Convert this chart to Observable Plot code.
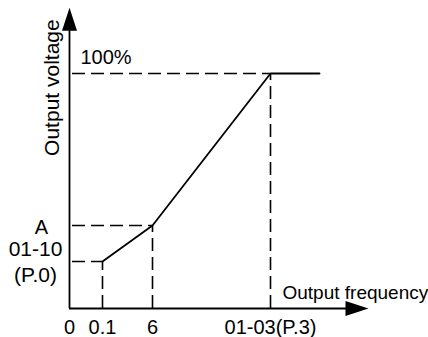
<!DOCTYPE html>
<html>
<head>
<meta charset="utf-8">
<script src="https://cdn.jsdelivr.net/npm/d3@7"></script>
<script src="https://cdn.jsdelivr.net/npm/@observablehq/plot@0.6"></script>
<style>
  html, body { margin: 0; padding: 0; background: #fff; }
  #chart svg { display: block; }
</style>
</head>
<body>
<div id="chart"></div>
<script>
// V/F curve (schematic): output frequency vs output voltage (%)
const curveFreq = [0.1, 6, 50, 70];
const curveVolt = [20, 35.3, 100, 100];

// frequency tick positions and labels
const freqTicks = [0, 0.1, 6, 50];
const freqTickLabels = ["0", "0.1", "6", "01-03(P.3)"];

// voltage labels
const voltGuideValues = [20, 35.3, 100];
const voltLabelA = "A";
const voltLabelMin = "01-10\n(P.0)";
const voltLabelMax = "100%";

// axis extents (arrow tips)
const freqAxisEnd = 90;
const voltAxisEnd = 128;
const xTitle = "Output frequency";
const yTitle = "Output voltage";
const yTitleAt = 94;

const curve = curveFreq.map((f, i) => ({f, v: curveVolt[i]}));
const guides = curve.slice(0, 3);

const font = "'Liberation Sans', Arial, sans-serif";
const dash = "13,6";

// elongated filled arrowhead, tip at origin pointing up
const arrowHead = {
  draw(ctx) {
    ctx.moveTo(0, 0);
    ctx.lineTo(7.5, 23);
    ctx.lineTo(-7.5, 23);
    ctx.closePath();
  }
};

const chart = Plot.plot({
  width: 428,
  height: 337,
  style: {fontFamily: font, fontSize: "20px", background: "#fff", color: "#000"},
  x: {type: "linear", domain: [0, 0.1, 6, 50, freqAxisEnd], range: [69, 102, 152, 270, 368], axis: null},
  y: {type: "linear", domain: [0, 100], range: [308, 73], axis: null},
  marks: [
    // dashed guides
    Plot.ruleY(guides, {y: "v", x1: 0, x2: "f", stroke: "#000", strokeWidth: 1.6, strokeDasharray: dash, strokeDashoffset: 16}),
    Plot.ruleX(guides, {x: "f", y1: 0, y2: "v", stroke: "#000", strokeWidth: 1.6, strokeDasharray: dash, strokeDashoffset: 0}),
    // axes
    Plot.ruleX([0], {y1: 0, y2: voltAxisEnd - 3, stroke: "#000", strokeWidth: 1.8}),
    Plot.ruleY([0], {x1: 0, x2: freqAxisEnd - 3, stroke: "#000", strokeWidth: 1.8}),
    Plot.dot([0], {x: 0, y: voltAxisEnd, symbol: arrowHead, fill: "#000", stroke: null, r: 5}),
    Plot.dot([0], {x: freqAxisEnd, y: 0, symbol: arrowHead, fill: "#000", stroke: null, r: 5, rotate: 90}),
    // curve
    Plot.line(curve, {x: "f", y: "v", stroke: "#000", strokeWidth: 1.8}),
    // tick labels on frequency axis
    Plot.text(freqTicks, {x: d => d, y: 0, text: (d, i) => freqTickLabels[i], textAnchor: "middle", lineAnchor: "bottom", dy: 25, fill: "#000", fontSize: 20}),
    // voltage labels
    Plot.text([voltGuideValues[1]], {x: 0, y: d => d, text: () => voltLabelA, textAnchor: "middle", lineAnchor: "bottom", dx: -28, dy: 8, fill: "#000", fontSize: 20}),
    Plot.text([voltGuideValues[0]], {x: 0, y: d => d, text: () => voltLabelMin, textAnchor: "middle", lineAnchor: "bottom", lineHeight: 1.2, dx: -34, dy: 20, fill: "#000", fontSize: 21}),
    Plot.text([voltGuideValues[2]], {x: 0, y: d => d, text: () => voltLabelMax, textAnchor: "start", lineAnchor: "bottom", dx: 11, dy: -10, fill: "#000", fontSize: 20}),
    // axis titles
    Plot.text([xTitle], {x: 50, y: 0, text: d => d, textAnchor: "start", lineAnchor: "bottom", dx: 12, dy: -10, fill: "#000", fontSize: 19}),
    Plot.text([yTitle], {x: 0, y: yTitleAt, text: d => d, textAnchor: "middle", lineAnchor: "bottom", rotate: -90, dx: -11, fill: "#000", fontSize: 21})
  ]
});

document.getElementById("chart").appendChild(chart);
</script>
</body>
</html>
